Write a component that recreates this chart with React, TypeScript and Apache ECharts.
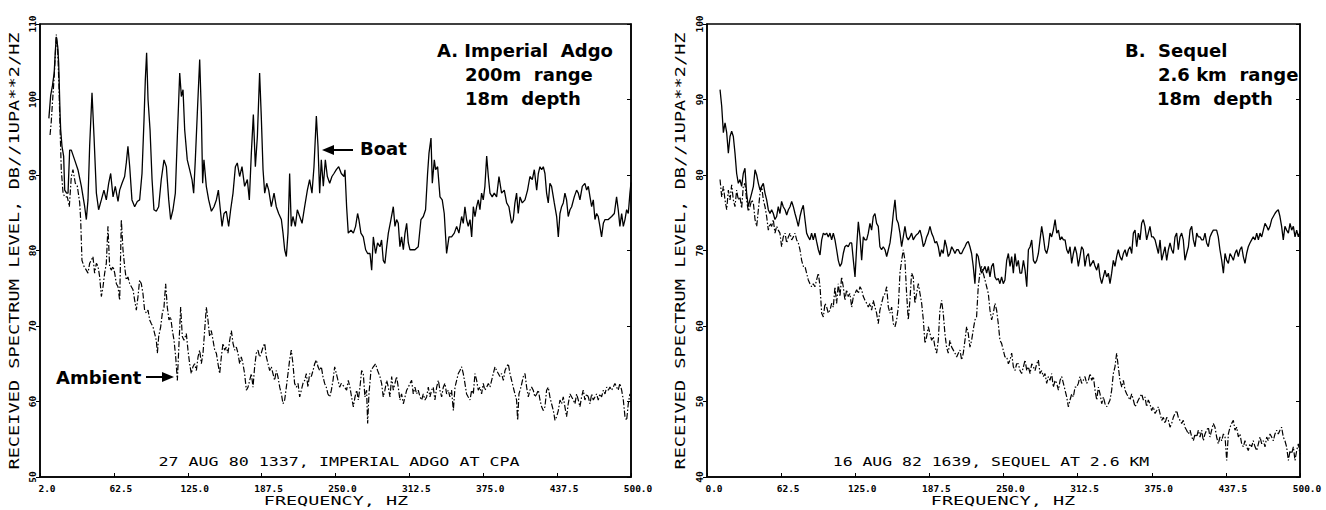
import React, { useEffect, useRef } from "react";
import * as echarts from "echarts";

// ---------- tick labels ----------
const xTickLabelsA = ["2.0", "62.5", "125.0", "187.5", "250.0", "312.5", "375.0", "437.5", "500.0"];
const xTickLabelsB = ["0.0", "62.5", "125.0", "187.5", "250.0", "312.5", "375.0", "437.5", "500.0"];
const yTickLabelsA = ["50", "60", "70", "80", "90", "100", "110"];
const yTickLabelsB = ["40", "50", "60", "70", "80", "90", "100"];

// ---------- panel A: Imperial Adgo (Hz, dB) ----------
const boatA: number[][] = [
  [7.5,97.5],[9.0,100.5],[10.5,101.8],[12.0,103.5],[13.0,106.5],[13.8,108.3],[15.0,107.0],[15.8,104.8],[17.0,98.0],[17.5,96.0],
  [18.6,93.8],[20.0,92.5],[20.9,88.0],[22.5,87.6],[23.7,87.6],[25.1,93.3],[26.5,93.3],[29.3,92.0],[32.1,90.7],[35.0,88.5],
  [37.8,85.8],[39.2,84.1],[40.6,86.7],[42.0,93.8],[44.0,100.9],[45.7,95.1],[47.7,87.6],[49.6,85.4],[51.9,86.7],[54.1,88.0],
  [56.1,86.7],[58.1,88.9],[59.8,90.2],[61.8,87.1],[63.7,88.5],[66.0,86.5],[67.4,88.0],[69.4,88.9],[71.6,89.8],[73.0,91.6],
  [74.4,93.8],[75.9,91.1],[77.8,86.7],[80.1,85.8],[82.3,86.5],[84.3,86.7],[86.3,90.2],[88.0,97.3],[89.1,102.6],[90.2,106.2],
  [91.4,100.0],[93.1,96.0],[94.8,89.4],[96.4,85.4],[98.4,85.2],[100.4,85.8],[102.6,89.4],[104.9,92.0],[106.9,91.1],[108.9,86.7],
  [110.5,84.1],[112.5,85.4],[114.5,87.6],[116.2,95.1],[118.2,103.5],[119.6,100.4],[121.0,101.3],[122.4,96.0],[124.6,92.0],[126.6,90.7],
  [128.6,89.4],[130.0,87.6],[131.4,92.0],[133.1,98.2],[135.1,105.3],[136.5,98.2],[137.6,88.9],[138.7,92.0],[140.7,88.5],[142.7,86.7],
  [145.0,85.2],[147.2,85.8],[149.2,86.7],[150.9,88.0],[152.3,85.8],[154.0,83.2],[155.7,84.9],[157.6,85.2],[159.6,83.2],[161.3,85.4],
  [163.3,87.6],[165.3,91.1],[166.9,91.6],[168.9,89.8],[170.9,91.1],[173.1,88.5],[175.4,89.4],[177.1,86.7],[178.8,92.9],[180.5,98.0],
  [182.2,91.1],[183.9,95.1],[185.8,103.5],[187.2,97.8],[188.7,90.7],[190.1,87.6],[191.8,88.9],[193.5,88.0],[195.7,85.8],[198.0,87.6],
  [199.9,85.8],[201.9,84.9],[204.2,84.1],[205.6,82.3],[207.0,80.1],[208.4,79.2],[209.8,82.3],[211.2,90.2],[212.6,83.2],[214.0,84.5],
  [216.0,83.2],[217.7,85.4],[219.7,84.5],[221.7,83.6],[223.9,85.8],[226.2,88.0],[228.1,89.4],[230.1,87.6],[231.8,91.1],[233.8,97.8],
  [235.2,93.8],[236.6,87.6],[238.0,92.0],[239.7,88.5],[241.4,92.0],[243.1,89.8],[245.1,88.9],[247.0,89.8],[248.7,90.2],[250.7,90.7],
  [252.7,91.1],[254.9,90.2],[257.2,89.8],[258.0,90.7],[259.4,85.8],[260.8,82.3],[263.1,82.7],[265.1,82.3],[267.0,83.2],[268.7,84.9],
  [269.8,84.1],[271.5,82.3],[273.5,81.8],[275.5,80.1],[277.2,79.6],[279.2,79.6],[280.6,77.4],[282.0,81.8],[283.9,79.6],[285.6,81.0],
  [287.6,80.5],[289.0,81.4],[290.4,78.7],[291.8,78.3],[293.3,80.5],[294.7,82.3],[296.9,84.1],[298.9,85.8],[300.3,83.2],[301.7,84.1],
  [303.1,83.6],[304.5,80.5],[305.9,81.8],[307.4,80.1],[308.8,82.3],[310.2,83.6],[311.6,81.0],[313.0,80.1],[314.4,80.1],[317.2,80.1],
  [320.0,80.5],[322.3,84.1],[324.3,84.5],[326.2,85.4],[327.9,90.2],[329.1,92.9],[330.8,94.9],[331.9,88.9],[333.6,92.0],[334.7,90.7],
  [336.4,91.1],[338.4,87.1],[340.3,86.7],[342.0,84.9],[344.0,79.6],[346.0,81.8],[348.2,81.8],[350.5,82.3],[352.5,83.2],[354.4,82.3],
  [356.7,84.5],[358.1,83.6],[359.5,85.8],[360.9,84.1],[362.3,83.2],[363.8,84.1],[365.2,81.8],[366.6,85.8],[368.0,84.5],[369.4,85.8],
  [370.8,86.7],[372.2,85.4],[373.6,87.6],[375.0,86.7],[376.4,88.5],[377.9,92.5],[379.3,89.8],[380.7,87.6],[382.6,87.1],[384.3,87.6],
  [386.3,87.1],[388.3,89.8],[390.5,87.6],[392.8,88.0],[394.8,86.3],[396.7,85.8],[399.0,83.6],[400.4,84.1],[401.8,86.3],[403.2,87.6],
  [404.6,84.9],[406.1,87.1],[408.0,86.3],[410.3,86.7],[412.5,88.0],[414.5,89.8],[416.5,89.4],[418.2,90.7],[420.2,88.0],[421.6,90.2],
  [423.0,91.1],[424.4,90.7],[425.8,91.1],[427.2,90.2],[428.6,87.6],[430.0,86.3],[431.4,88.9],[432.8,88.5],[435.1,86.3],[437.1,84.5],
  [438.5,81.8],[439.9,84.9],[441.3,85.8],[442.7,86.3],[444.1,87.6],[445.5,86.7],[446.9,84.5],[448.4,85.4],[449.8,85.8],[452.0,87.1],
  [454.0,88.0],[455.4,87.6],[456.8,86.7],[458.8,88.5],[461.0,88.9],[462.5,88.0],[463.9,88.5],[465.3,87.1],[466.7,85.8],[468.1,86.7],
  [469.5,84.1],[470.9,84.9],[472.3,84.5],[473.7,83.2],[475.1,81.8],[476.6,83.6],[478.0,84.1],[480.8,84.1],[483.6,84.5],[485.9,84.9],
  [487.8,87.1],[489.2,85.4],[490.6,83.2],[492.1,84.9],[493.5,83.2],[494.9,84.1],[496.3,85.4],[497.7,84.9],[499.1,87.6],[500.0,89.0]
];

const ambientA: number[][] = [
  [8.5,95.3],[9.5,97.0],[10.5,99.5],[12.0,103.0],[13.0,106.0],[13.8,108.6],[15.0,106.5],[16.0,102.0],[16.6,98.2],[18.0,90.7],
  [19.5,87.6],[20.9,87.1],[23.1,87.1],[24.8,85.8],[26.5,89.8],[27.9,90.7],[29.9,88.9],[31.6,88.5],[33.6,86.3],[34.4,84.1],
  [35.5,78.7],[37.2,77.9],[39.2,77.4],[40.6,77.0],[42.0,78.3],[43.4,78.7],[44.8,79.2],[46.2,77.0],[47.7,78.3],[49.1,77.9],
  [50.5,76.5],[51.9,73.9],[53.3,75.2],[54.7,77.0],[56.1,78.3],[57.5,83.2],[58.9,77.9],[60.3,77.4],[61.8,77.9],[63.2,77.0],
  [64.6,75.6],[66.0,75.2],[67.4,73.4],[68.8,84.1],[70.2,80.1],[71.6,77.9],[73.0,76.1],[74.4,76.5],[75.9,75.6],[77.3,75.2],
  [78.7,74.8],[80.1,73.4],[81.5,72.1],[82.9,73.9],[84.3,76.1],[85.7,75.6],[87.1,74.3],[88.5,72.1],[90.0,71.7],[91.4,72.1],
  [92.8,70.8],[94.2,70.3],[95.6,69.9],[97.0,69.0],[98.4,68.1],[99.3,66.4],[100.4,68.6],[102.1,69.9],[103.5,71.7],[104.9,72.5],
  [106.3,75.6],[107.7,72.5],[109.1,70.8],[110.5,71.2],[112.0,69.4],[113.4,68.1],[114.8,65.9],[116.2,62.8],[117.6,67.7],[119.0,72.5],
  [120.4,68.6],[121.8,68.1],[123.8,69.0],[125.2,66.8],[126.6,65.0],[128.0,63.7],[129.4,64.6],[130.8,65.0],[132.3,64.1],[133.7,65.9],
  [135.1,66.8],[136.5,65.0],[137.9,66.4],[139.3,69.4],[140.7,72.5],[142.1,70.8],[143.5,68.6],[144.9,69.4],[146.4,68.1],[147.8,66.8],
  [149.2,66.4],[150.6,65.0],[152.0,63.7],[153.4,65.9],[154.8,67.7],[156.2,66.8],[157.6,67.2],[159.0,66.4],[160.5,68.1],[161.9,69.4],
  [163.3,67.7],[164.7,66.8],[166.1,67.2],[167.5,66.4],[168.9,65.0],[170.3,65.9],[171.7,65.0],[173.1,63.7],[174.6,61.5],[176.0,61.9],
  [177.4,62.8],[178.8,63.7],[180.2,61.9],[181.6,64.6],[183.0,66.4],[184.4,66.8],[185.8,65.9],[187.2,66.4],[188.7,67.2],[190.1,67.7],
  [191.5,65.9],[192.9,65.0],[194.3,64.1],[195.7,64.6],[197.1,63.7],[198.5,62.8],[199.9,64.1],[201.3,63.3],[202.8,61.9],[204.2,61.0],
  [205.6,59.7],[207.0,60.2],[208.4,61.9],[209.8,63.7],[211.2,65.5],[212.6,66.8],[214.0,65.0],[215.4,62.4],[216.9,61.9],[218.3,62.4],
  [219.7,60.6],[221.1,61.5],[222.5,62.4],[223.9,62.8],[225.3,63.7],[226.7,61.9],[228.1,63.7],[229.5,63.3],[231.0,64.1],[232.4,65.0],
  [233.8,65.5],[235.2,64.6],[236.6,64.1],[238.0,64.6],[239.4,63.3],[240.8,62.4],[242.2,61.9],[243.6,61.0],[245.1,60.6],[246.5,61.5],
  [247.9,62.8],[249.3,64.6],[250.7,63.7],[252.1,62.8],[253.5,61.9],[254.9,62.4],[257.7,61.9],[259.4,61.5],[260.8,62.8],[262.2,61.9],
  [263.6,60.6],[265.1,59.3],[266.5,60.6],[267.9,61.5],[269.3,60.2],[270.7,61.9],[272.1,64.1],[273.5,63.7],[274.9,60.6],[276.3,61.5],
  [277.2,57.1],[278.3,61.0],[280.0,64.1],[282.0,64.6],[283.9,65.0],[285.6,64.1],[287.6,63.3],[289.0,62.4],[290.4,60.6],[291.8,61.5],
  [293.3,62.8],[294.7,61.9],[296.1,60.6],[297.5,63.3],[298.9,61.5],[300.3,62.4],[301.7,63.3],[303.1,61.9],[304.5,60.2],[305.9,61.0],
  [307.4,59.7],[308.8,60.6],[310.2,61.5],[311.6,61.9],[313.0,62.4],[314.4,62.8],[315.8,61.0],[317.2,61.9],[318.6,61.0],[320.0,61.5],
  [321.5,60.6],[322.9,60.2],[324.3,61.0],[325.7,60.2],[327.1,60.6],[328.5,61.9],[329.9,60.6],[331.3,61.5],[332.7,61.9],[334.1,60.2],
  [335.6,61.9],[337.0,62.8],[338.4,61.5],[339.8,60.6],[341.2,61.9],[342.6,62.4],[344.0,61.0],[345.4,61.5],[346.8,60.6],[348.2,61.5],
  [349.7,58.8],[351.1,61.9],[352.5,62.8],[353.9,63.7],[355.3,64.1],[356.7,64.6],[358.1,63.7],[359.5,62.4],[360.9,61.0],[362.3,60.6],
  [363.8,60.2],[365.2,61.5],[366.6,61.0],[368.0,63.7],[369.4,62.8],[370.8,61.5],[372.2,61.9],[373.6,61.0],[375.0,62.4],[376.4,61.5],
  [377.9,61.9],[379.3,62.4],[380.7,61.9],[382.1,62.8],[383.5,63.7],[384.9,64.6],[386.3,64.1],[387.7,63.7],[389.1,63.3],[390.5,63.7],
  [392.0,62.8],[393.4,64.1],[394.8,64.6],[396.2,65.0],[397.6,63.7],[399.0,62.8],[400.4,61.9],[401.8,61.0],[403.2,60.2],[404.1,57.5],
  [405.2,61.0],[406.9,61.9],[408.9,63.3],[410.3,63.7],[411.7,61.9],[413.1,60.6],[414.5,61.5],[415.9,61.9],[417.3,61.5],[418.7,60.6],
  [420.2,61.0],[421.6,61.5],[423.0,60.2],[424.4,59.3],[425.8,58.8],[427.2,59.3],[428.6,61.5],[430.0,61.9],[431.4,60.6],[432.8,59.7],
  [434.3,58.8],[435.7,57.5],[437.1,58.0],[438.5,58.8],[439.9,60.2],[441.3,59.7],[442.7,60.6],[444.1,59.3],[445.5,58.0],[446.9,59.7],
  [448.4,61.0],[449.8,60.6],[451.2,60.2],[452.6,59.7],[454.0,61.0],[455.4,60.2],[456.8,59.3],[458.2,60.6],[459.6,61.5],[461.0,60.2],
  [462.5,61.0],[463.9,60.6],[465.3,59.7],[466.7,61.0],[468.1,60.2],[469.5,60.6],[470.9,61.0],[472.3,60.2],[473.7,61.0],[475.1,60.6],
  [476.6,61.5],[478.0,61.0],[479.4,61.9],[480.8,61.5],[482.2,61.9],[483.6,61.5],[485.0,61.9],[486.4,62.4],[487.8,61.9],[489.2,61.5],
  [490.6,62.4],[492.1,61.5],[493.5,60.2],[494.9,58.0],[496.3,57.5],[497.7,59.7],[499.1,61.0]
];

// ---------- panel B: Sequel (shared frequency bins) ----------
const hzB: number[] = [
  11.0,12.4,13.8,15.2,16.6,18.0,19.4,20.8,22.2,23.6,
  25.0,26.4,27.8,29.2,30.6,32.0,33.4,34.8,36.2,37.7,
  39.1,40.5,41.9,43.3,44.7,46.1,47.5,48.9,50.3,51.7,
  53.1,54.5,55.9,57.3,58.7,60.1,61.5,62.9,64.3,65.8,
  67.2,68.6,70.0,71.4,72.8,74.2,75.6,77.0,78.4,79.8,
  81.2,82.6,84.0,85.4,86.8,88.2,89.6,91.0,92.4,93.9,
  95.3,96.7,98.1,99.5,100.9,102.3,103.7,105.1,106.5,107.9,
  109.3,110.7,112.1,113.5,114.9,116.3,117.7,119.1,120.5,122.0,
  123.4,124.8,126.2,127.6,129.0,130.4,131.8,133.2,134.6,136.0,
  137.4,138.8,140.2,141.6,143.0,144.4,145.8,147.2,148.6,150.1,
  151.5,152.9,154.3,155.7,157.1,158.5,159.9,161.3,162.7,164.1,
  165.5,166.9,168.3,169.7,171.1,172.5,173.9,175.3,176.7,178.2,
  179.6,181.0,182.4,183.8,185.2,186.6,188.0,189.4,190.8,192.2,
  193.6,195.0,196.4,197.8,199.2,200.6,202.0,203.4,204.8,206.3,
  207.7,209.1,210.5,211.9,213.3,214.7,216.1,217.5,218.9,220.3,
  221.7,223.1,224.5,225.9,227.3,228.7,230.1,231.5,232.9,234.4,
  235.8,237.2,238.6,240.0,241.4,242.8,244.2,245.6,247.0,248.4,
  249.8,251.2,
  252.7,254.1,255.5,256.9,258.3,259.7,261.1,262.5,263.9,265.3,
  266.8,268.2,269.6,271.0,272.4,273.8,275.2,276.6,278.0,279.4,
  280.8,282.2,283.6,285.0,286.4,287.8,289.2,290.6,292.0,293.5,
  294.9,296.3,297.7,299.1,300.5,301.9,303.3,304.7,306.1,307.5,
  308.9,310.3,311.7,313.1,314.5,315.9,317.3,318.7,320.1,321.6,
  323.0,324.4,325.8,327.2,328.6,330.0,331.4,332.8,334.2,335.6,
  337.0,338.4,339.8,341.2,342.6,344.0,345.4,346.8,348.2,349.7,
  351.1,352.5,353.9,355.3,356.7,358.1,359.5,360.9,362.3,363.7,
  365.1,366.5,367.9,369.3,370.7,372.1,373.5,374.9,376.3,377.8,
  379.2,380.6,382.0,383.4,384.8,386.2,387.6,389.0,390.4,391.8,
  393.2,394.6,396.0,397.4,398.8,400.2,401.6,403.0,404.4,405.9,
  407.3,408.7,410.1,411.5,412.9,414.3,415.7,417.1,418.5,419.9,
  421.3,422.7,424.1,425.5,426.9,428.3,429.7,431.1,432.5,434.0,
  435.4,436.8,438.2,439.6,441.0,442.4,443.8,445.2,446.6,448.0,
  449.4,450.8,452.2,453.6,455.0,456.4,457.8,459.2,460.6,462.1,
  463.5,464.9,466.3,467.7,469.1,470.5,471.9,473.3,474.7,476.1,
  477.5,478.9,480.3,481.7,483.1,484.5,485.9,487.3,488.7,490.2,
  491.6,493.0,494.4,495.8,497.2,498.6,500.0
];

const boatBDb: number[] = [
  91.3,89.1,85.6,86.9,85.6,82.9,85.1,85.8,85.1,82.9,
  80.2,78.9,79.4,78.5,80.2,80.9,77.6,75.8,76.7,77.6,
  78.5,80.7,80.0,78.9,78.0,78.5,78.9,77.6,76.7,75.4,
  74.9,75.4,74.9,74.1,74.5,75.8,74.9,76.5,75.8,75.4,
  74.7,75.4,75.8,76.5,75.8,74.9,74.1,73.2,74.5,75.4,
  76.0,74.1,72.3,71.8,71.4,72.3,71.4,72.3,71.2,70.1,
  69.4,71.4,72.3,72.1,72.3,71.8,72.3,71.4,72.3,71.4,
  70.1,68.7,67.9,68.3,69.6,70.5,70.7,70.5,71.0,71.0,
  68.7,66.5,70.5,73.8,71.8,68.7,71.8,71.4,71.4,72.3,
  73.6,72.7,74.5,74.9,73.6,73.2,70.5,70.1,70.5,70.1,
  69.2,70.1,71.0,72.7,74.9,76.7,74.1,73.6,72.3,70.5,
  71.8,73.2,71.8,71.4,71.8,72.3,71.4,71.8,72.1,72.3,
  72.7,71.8,70.5,71.0,71.8,72.3,73.2,72.3,71.8,71.0,
  71.2,70.5,69.2,70.1,69.6,71.4,70.5,69.2,69.6,70.5,
  70.1,69.6,70.1,70.1,69.6,69.6,70.1,70.5,71.0,71.2,
  70.5,69.6,67.9,65.6,69.6,69.2,67.9,67.0,67.4,67.9,
  67.0,67.9,66.5,67.9,68.3,66.5,66.1,66.3,65.6,66.5,
  65.6,66.1,
  68.7,69.6,67.9,69.2,67.0,69.6,67.9,68.7,67.0,67.0,
  68.7,67.4,65.2,70.1,70.5,71.4,68.7,68.3,68.7,69.6,
  71.4,73.2,71.8,70.1,69.6,70.5,72.3,71.8,72.7,74.1,
  72.3,72.7,71.4,71.8,71.4,71.4,70.1,69.6,70.5,68.3,
  69.6,70.5,69.6,67.9,69.2,70.5,70.1,67.9,69.2,69.6,
  67.9,68.3,68.7,67.9,67.4,68.3,66.5,65.6,66.5,67.4,
  66.5,67.0,65.6,67.0,68.7,67.9,69.2,70.1,69.2,68.7,
  69.6,70.1,69.2,70.1,70.5,69.6,72.3,72.7,70.5,72.3,
  71.4,73.6,74.1,73.2,71.4,72.3,73.2,71.8,71.8,71.4,
  70.5,69.6,71.4,68.7,69.6,70.5,68.7,70.1,71.0,70.1,
  69.6,71.8,72.3,70.1,71.8,72.3,71.4,68.7,69.6,70.5,
  72.7,73.2,71.4,70.5,72.3,71.8,71.8,71.4,71.4,72.3,
  71.0,70.5,71.8,72.3,72.7,72.7,72.7,71.8,70.1,68.7,
  67.0,69.6,68.7,68.3,69.6,69.2,68.7,69.6,70.1,69.2,
  70.1,70.5,69.2,68.3,69.6,70.5,71.0,71.4,71.8,71.4,
  72.3,71.4,72.3,71.8,72.7,73.6,73.2,72.7,73.2,74.1,
  74.5,74.9,75.2,75.4,74.5,73.2,71.4,73.2,72.7,72.3,
  73.6,72.7,73.2,71.8,72.7,71.8,72.5
];

const ambientBDb: number[] = [
  79.4,77.1,78.5,76.7,75.4,78.0,76.7,78.7,76.7,75.8,
  78.0,76.7,77.1,75.6,78.5,78.9,76.7,75.2,75.8,76.7,
  76.3,74.1,73.2,75.4,77.6,78.5,76.7,75.8,74.5,72.7,
  73.6,73.2,74.1,72.3,73.2,72.7,72.3,70.5,71.8,72.3,
  71.0,71.8,72.3,71.4,71.8,72.3,71.4,71.0,70.1,68.7,
  67.9,67.9,67.0,66.1,65.6,65.2,65.6,65.2,66.1,67.0,
  65.2,61.7,61.2,63.0,62.5,61.7,62.1,63.0,62.5,65.2,
  63.0,65.6,63.9,66.5,65.2,63.4,64.8,63.9,64.3,62.5,
  63.9,64.3,64.8,64.3,65.2,64.8,63.9,63.4,63.0,62.5,
  63.0,62.1,63.4,62.5,61.7,60.3,62.1,63.0,63.9,64.3,
  65.2,62.5,61.7,62.5,60.3,59.9,60.8,62.5,67.0,68.7,
  70.1,68.7,64.3,60.8,63.4,67.0,66.5,63.0,64.3,65.6,
  64.3,63.0,60.8,57.7,58.6,59.9,59.0,58.1,58.6,57.2,
  56.4,58.1,62.1,63.4,61.7,59.0,57.2,56.4,58.1,57.2,
  56.8,56.4,55.9,56.4,56.8,55.5,56.4,58.1,59.9,59.0,
  57.2,58.1,59.5,60.8,61.2,65.2,67.0,67.9,67.0,66.1,
  65.2,64.3,62.1,60.8,61.7,63.0,62.1,60.3,58.1,57.7,
  56.8,55.9,
  55.9,55.0,55.5,56.4,54.6,54.1,55.0,55.0,54.1,53.7,
  54.6,55.5,54.1,54.6,53.7,55.0,54.6,54.1,55.0,55.5,
  53.7,54.1,53.3,53.7,52.4,53.3,52.8,53.7,51.9,52.8,
  52.4,51.5,52.8,53.3,52.4,51.5,50.6,49.3,50.2,51.0,
  50.6,51.9,51.9,52.4,53.3,52.4,52.8,53.3,52.4,52.8,
  53.7,52.8,53.3,51.5,50.2,51.9,51.0,49.7,50.6,49.7,
  49.3,49.7,50.2,51.5,53.7,54.6,56.4,54.6,52.8,51.9,
  52.8,51.5,51.0,50.6,50.2,51.0,50.2,49.3,49.7,50.2,
  50.6,51.0,50.2,50.6,49.3,50.2,49.7,48.8,49.3,48.4,
  48.8,49.3,48.4,47.5,47.9,47.1,47.9,47.5,46.6,47.1,
  47.9,48.4,48.8,47.9,47.5,47.1,47.5,46.6,46.2,45.7,
  46.2,45.3,44.8,45.7,45.3,46.2,45.3,46.2,44.8,45.7,
  46.2,46.6,45.3,46.2,47.1,46.6,45.3,44.4,45.3,44.8,
  45.7,45.3,42.2,45.7,46.6,47.1,47.5,46.2,46.6,45.3,
  45.7,44.4,44.0,44.8,44.0,43.5,44.4,44.0,44.8,44.0,
  43.5,44.4,45.3,44.4,44.8,44.0,45.3,44.8,45.7,45.3,
  44.8,45.7,46.2,45.7,46.2,46.6,45.3,44.8,44.0,42.2,
  43.5,43.1,44.0,42.2,43.5,44.4,43.0
];

// ---------- annotation texts ----------
const yTitle = "RECEIVED SPECTRUM LEVEL, DB//1UPA**2/HZ";
const xTitle = "FREQUENCY, HZ";
const captionA = "27 AUG 80 1337, IMPERIAL ADGO AT CPA";
const captionB = "16 AUG 82 1639, SEQUEL AT 2.6 KM";
const legendA = ["A. Imperial  Adgo", "200m  range", "18m  depth"];
const legendB = ["B.  Sequel", "2.6 km  range", "18m  depth"];

const MONO = "DejaVu Sans Mono";
const SANS = "DejaVu Sans";

function zip(xs: number[], ys: number[]): number[][] {
  const n = Math.min(xs.length, ys.length);
  const out: number[][] = [];
  for (let i = 0; i < n; i++) out.push([xs[i], ys[i]]);
  return out;
}

function xAxisCfg(gridIndex: number, labels: string[]) {
  return {
    type: "value", gridIndex, min: 0, max: 500, interval: 62.5,
    axisLine: { show: true, lineStyle: { color: "#000", width: 1.5 } },
    axisTick: { show: true, inside: true, length: 4, lineStyle: { color: "#000", width: 1 } },
    splitLine: { show: false },
    axisLabel: {
      color: "#000", fontFamily: MONO, fontWeight: "bold", fontSize: 9.5, margin: 6,
      padding: [0, 0, 0, 14],
      formatter: (v: number) => labels[Math.round(v / 62.5)] ?? "",
    },
  };
}

function yAxisCfg(gridIndex: number, min: number, labels: string[]) {
  return {
    type: "value", gridIndex, min, max: min + 60, interval: 10, position: "left",
    axisLine: { show: true, lineStyle: { color: "#000", width: 1.5 } },
    axisTick: { show: true, inside: false, length: 4, lineStyle: { color: "#000", width: 1 } },
    splitLine: { show: false },
    axisLabel: {
      color: "#000", fontFamily: MONO, fontWeight: "bold", fontSize: 9.5, rotate: 90, margin: 3,
      formatter: (v: number) => labels[Math.round((v - min) / 10)] ?? "",
    },
  };
}

function yAxisRight(gridIndex: number, min: number) {
  return {
    type: "value", gridIndex, min, max: min + 60, interval: 10, position: "right",
    axisLine: { show: true, lineStyle: { color: "#000", width: 1.5 } },
    axisTick: { show: true, inside: true, length: 4, lineStyle: { color: "#000", width: 1 } },
    axisLabel: { show: false },
    splitLine: { show: false },
  };
}

function lineSeries(data: number[][], xi: number, yi: number, dashed: boolean) {
  return {
    type: "line", xAxisIndex: xi, yAxisIndex: yi, data, symbol: "none", showSymbol: false,
    silent: true, animation: false,
    lineStyle: dashed
      ? { color: "#000", width: 1.2, type: [6, 2, 1.5, 2] }
      : { color: "#000", width: 1.3, type: "solid" },
  };
}

function monoText(text: string, x: number, y: number, size: number, sx: number, rot = 0) {
  return {
    type: "text", x, y, rotation: rot, scaleX: sx, scaleY: 1, silent: true,
    style: { text, fontFamily: MONO, fontSize: size, fill: "#000", align: "center", verticalAlign: "middle" },
  };
}

function sansText(text: string, x: number, y: number) {
  return {
    type: "text", x, y, silent: true,
    style: { text, fontFamily: SANS, fontWeight: "bold", fontSize: 18, fill: "#000", align: "left", verticalAlign: "middle" },
  };
}

export default function App() {
  const ref = useRef<HTMLDivElement>(null);

  useEffect(() => {
    if (!ref.current) return;
    const chart = echarts.init(ref.current, undefined, { renderer: "svg" });
    const option: any = {
      animation: false,
      backgroundColor: "#fff",
      grid: [
        { left: 40, top: 24, width: 591, height: 453, show: true, borderColor: "#000", borderWidth: 1.5, containLabel: false },
        { left: 707, top: 24, width: 593, height: 453, show: true, borderColor: "#000", borderWidth: 1.5, containLabel: false },
      ],
      xAxis: [xAxisCfg(0, xTickLabelsA), xAxisCfg(1, xTickLabelsB)],
      yAxis: [yAxisCfg(0, 50, yTickLabelsA), yAxisRight(0, 50), yAxisCfg(1, 40, yTickLabelsB), yAxisRight(1, 40)],
      series: [
        lineSeries(ambientA, 0, 0, true),
        lineSeries(boatA, 0, 0, false),
        lineSeries(zip(hzB, ambientBDb), 1, 2, true),
        lineSeries(zip(hzB, boatBDb), 1, 2, false),
      ],
      graphic: [
        monoText(yTitle, 14, 251, 14, 1.33, Math.PI / 2),
        monoText(yTitle, 680, 251, 14, 1.33, Math.PI / 2),
        monoText(xTitle, 336, 501, 13, 1.42),
        monoText(xTitle, 1003, 501, 13, 1.42),
        monoText(captionA, 339, 462, 12, 1.39),
        monoText(captionB, 991, 462, 12, 1.37),
        sansText(legendA[0], 437, 50),
        sansText(legendA[1], 465, 74),
        sansText(legendA[2], 465, 98),
        sansText(legendB[0], 1125, 50),
        sansText(legendB[1], 1158, 74),
        sansText(legendB[2], 1157, 98),
        sansText("Boat", 360, 148),
        sansText("Ambient", 56, 377),
        { type: "line", silent: true, shape: { x1: 331, y1: 150, x2: 353, y2: 150 }, style: { stroke: "#000", lineWidth: 2 } },
        { type: "polygon", silent: true, shape: { points: [[322, 150], [334, 145], [334, 155]] }, style: { fill: "#000" } },
        { type: "line", silent: true, shape: { x1: 146, y1: 377, x2: 165, y2: 377 }, style: { stroke: "#000", lineWidth: 2 } },
        { type: "polygon", silent: true, shape: { points: [[174, 377], [162, 372], [162, 382]] }, style: { fill: "#000" } },
      ],
    };
    chart.setOption(option);
    return () => chart.dispose();
  }, []);

  return (
    <div
      ref={ref}
      style={{ position: "absolute", left: 0, top: 0, width: 1326, height: 510, background: "#fff" }}
    />
  );
}
